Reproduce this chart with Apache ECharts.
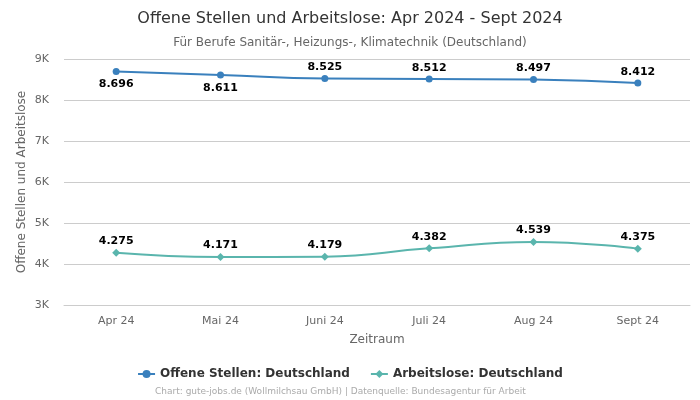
<!DOCTYPE html>
<html><head><meta charset="utf-8">
<script src="https://cdn.jsdelivr.net/npm/echarts@6/dist/echarts.min.js"></script>
<style>html,body{margin:0;padding:0;background:#fff}#c{width:700px;height:400px}</style>
</head><body><div id="c"></div>
<script>
var categories = ['Apr 24','Mai 24','Juni 24','Juli 24','Aug 24','Sept 24'];
var offeneStellen = [8696, 8611, 8525, 8512, 8497, 8412];
var arbeitslose = [4275, 4171, 4179, 4382, 4539, 4375];
var offeneLabelPos = ['bottom','bottom','top','top','top','top'];
var FONT = 'DejaVu Sans';
function fmt(v){ return String(v).replace(/\B(?=(\d{3})+(?!\d))/g,'.'); }
var chart = echarts.init(document.getElementById('c'));
chart.setOption({
  animation:false,
  textStyle:{fontFamily:FONT},
  title:[
    {text:'Offene Stellen und Arbeitslose: Apr 2024 - Sept 2024',left:'center',top:6,textStyle:{fontFamily:FONT,fontSize:16,fontWeight:'normal',color:'#333'}},
    {text:'Für Berufe Sanitär-, Heizungs-, Klimatechnik (Deutschland)',left:'center',top:32,textStyle:{fontFamily:FONT,fontSize:12,fontWeight:'normal',color:'#666'}},
    {text:'Chart: gute-jobs.de (Wollmilchsau GmbH) | Datenquelle: Bundesagentur für Arbeit',left:150,top:382,textStyle:{fontFamily:FONT,fontSize:9,fontWeight:'normal',color:'#aaa'}}
  ],
  legend:{bottom:15,itemGap:20,itemWidth:17,itemHeight:10,textStyle:{fontFamily:FONT,fontSize:12,fontWeight:'bold',color:'#333'},
    data:['Offene Stellen: Deutschland','Arbeitslose: Deutschland']},
  grid:{left:64,right:10,top:59,bottom:95},
  xAxis:{type:'category',data:categories,boundaryGap:true,name:'Zeitraum',nameLocation:'middle',nameGap:29,
    nameTextStyle:{fontFamily:FONT,fontSize:12,color:'#666'},
    axisLine:{show:true,lineStyle:{color:'#ccc'}},axisTick:{show:false},
    axisLabel:{fontFamily:FONT,fontSize:11,color:'#666',margin:11}},
  yAxis:{type:'value',min:3000,max:9000,interval:1000,name:'Offene Stellen und Arbeitslose',nameLocation:'middle',nameGap:36,nameMoveOverlap:false,
    nameTextStyle:{fontFamily:FONT,fontSize:12,color:'#666'},
    axisLine:{show:false},axisTick:{show:false},
    splitLine:{lineStyle:{color:'#ccc'}},
    axisLabel:{fontFamily:FONT,fontSize:11,color:'#666',margin:15,formatter:function(v){return (v/1000)+'K';}}},
  series:[
    {name:'Offene Stellen: Deutschland',type:'line',smooth:true,symbol:'circle',symbolSize:7,
      itemStyle:{color:'#3a80bd'},lineStyle:{width:2,color:'#3a80bd'},
      data:offeneStellen.map(function(v,i){return {value:v,label:{position:offeneLabelPos[i],distance:offeneLabelPos[i]==='bottom'?4:2}};}),
      label:{show:true,distance:2,fontFamily:FONT,fontSize:11,fontWeight:'bold',color:'#000',formatter:function(p){return fmt(p.value);}}},
    {name:'Arbeitslose: Deutschland',type:'line',smooth:true,symbol:'diamond',symbolSize:8,
      itemStyle:{color:'#5ab5ad'},lineStyle:{width:2,color:'#5ab5ad'},
      data:arbeitslose,
      label:{show:true,position:'top',distance:2,fontFamily:FONT,fontSize:11,fontWeight:'bold',color:'#000',formatter:function(p){return fmt(p.value);}}}
  ]
});
</script></body></html>
